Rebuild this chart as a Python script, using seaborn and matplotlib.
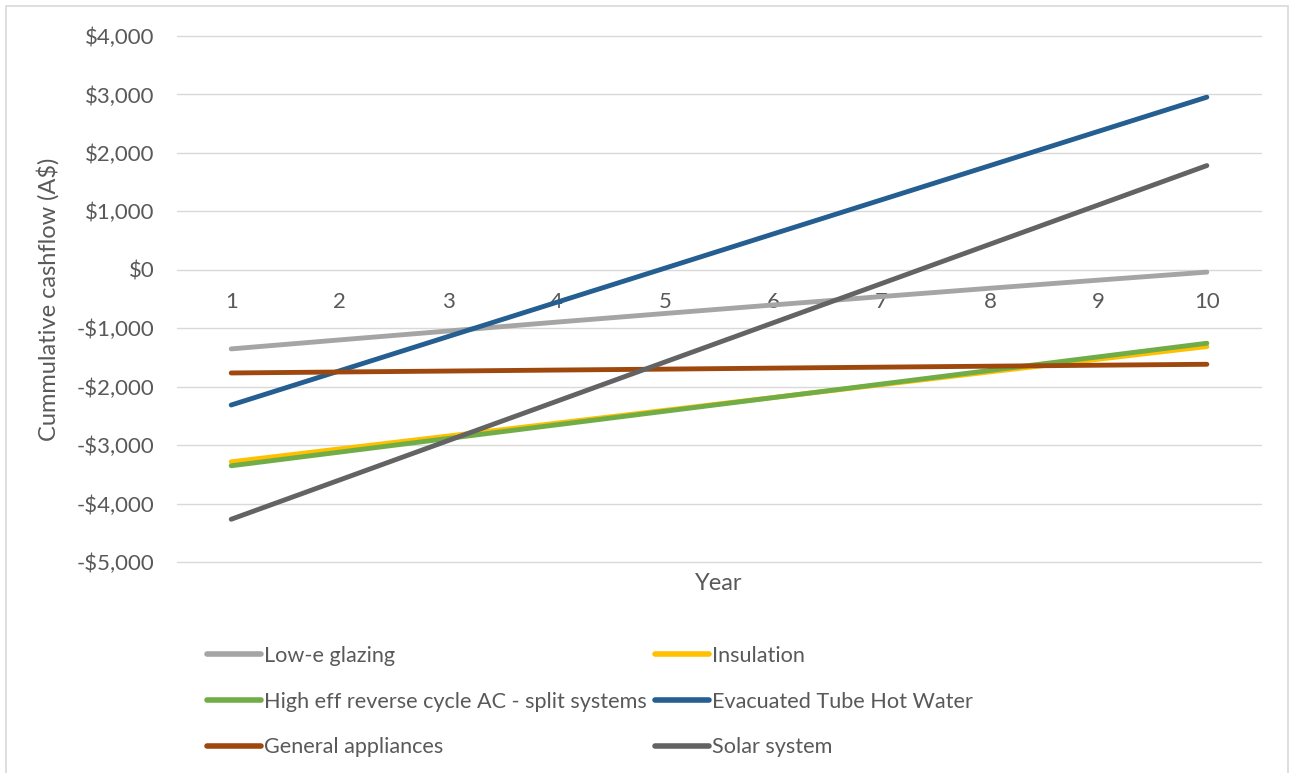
import matplotlib
matplotlib.use("Agg")
import matplotlib.pyplot as plt
import seaborn as sns
import pandas as pd
from matplotlib.lines import Line2D
from matplotlib.patches import Rectangle
from matplotlib.ticker import FuncFormatter, MultipleLocator

# Cumulative cashflow per year for each upgrade option (A$)
years = [1, 2, 3, 4, 5, 6, 7, 8, 9, 10]
low_e_glazing = [-1354, -1200, -1048, -896, -748, -602, -458, -316, -177, -40]
insulation = [-3286, -3065, -2845, -2625, -2405, -2185, -1966, -1747, -1530, -1314]
high_eff_ac = [-3354, -3120, -2887, -2654, -2421, -2188, -1955, -1722, -1490, -1257]
evacuated_tube = [-2314, -1729, -1143, -558, 27, 613, 1198, 1783, 2369, 2954]
general_appliances = [-1766, -1749, -1733, -1716, -1700, -1683, -1666, -1650, -1633, -1617]
solar_system = [-4269, -3597, -2924, -2252, -1579, -907, -235, 438, 1110, 1783]

series_names = [
    "Low-e glazing",
    "Insulation",
    "High eff reverse cycle AC - split systems",
    "Evacuated Tube Hot Water",
    "General appliances",
    "Solar system",
]
series_values = [low_e_glazing, insulation, high_eff_ac, evacuated_tube,
                 general_appliances, solar_system]
series_colors = ["#A5A5A5", "#FFC000", "#70AD47", "#255E91", "#9E480E", "#636363"]

rows = []
for name, vals in zip(series_names, series_values):
    for yr, v in zip(years, vals):
        rows.append({"Year": yr, "Cashflow": v, "Option": name})
df = pd.DataFrame(rows)

sns.set_theme(style="white")
plt.rcParams["font.family"] = ["Lato", "DejaVu Sans"]
text_color = "#595959"
grid_color = "#D9D9D9"

fig = plt.figure(figsize=(12.91, 7.73), dpi=100)
ax = fig.add_axes([0.1371, 0.2730, 0.8397, 0.6804])

ax.set_ylim(-5000, 4000)
ax.set_xlim(0.5, 10.5)
ax.yaxis.set_major_locator(MultipleLocator(1000))
ax.grid(axis="y", color=grid_color, linewidth=1.0)
ax.set_axisbelow(True)

sns.lineplot(data=df, x="Year", y="Cashflow", hue="Option",
             hue_order=series_names, palette=series_colors,
             linewidth=3.5, ax=ax, legend=False, sort=False)
for line in ax.lines:
    line.set_solid_capstyle("round")

def money(v, _pos):
    v = int(round(v))
    return f"-${abs(v):,}" if v < 0 else f"${v:,}"

ax.yaxis.set_major_formatter(FuncFormatter(money))
ax.set_xticks(years)
ax.set_xticklabels([str(y) for y in years])
for s in ["top", "right", "left"]:
    ax.spines[s].set_visible(False)
ax.spines["bottom"].set_position(("data", 0))
ax.spines["bottom"].set_visible(False)
ax.tick_params(axis="x", length=0, pad=16, labelsize=16, labelcolor=text_color)
ax.tick_params(axis="y", length=0, pad=16, labelsize=16, labelcolor=text_color)
for gl in ax.get_ygridlines():
    gl.set_clip_on(False)

ax.set_xlabel("")
ax.set_ylabel("Cummulative cashflow (A$)", fontsize=17, color=text_color)
ax.yaxis.set_label_coords(-0.108, 0.5)
fig.text(0.557, 1 - 583 / 773, "Year", fontsize=17, color=text_color,
         ha="center", va="center")

# Legend in two columns laid out row by row
def handle(c):
    return Line2D([0], [0], color=c, linewidth=4.0, solid_capstyle="round")

legend_kw = dict(frameon=False, fontsize=15.6, labelcolor=text_color,
                 handlelength=2.5, handletextpad=0.15, labelspacing=1.18,
                 borderpad=0, borderaxespad=0, loc="upper left")
left_idx = [0, 2, 4]
right_idx = [1, 3, 5]
fig.legend([handle(series_colors[i]) for i in left_idx],
           [series_names[i] for i in left_idx],
           bbox_to_anchor=(207 / 1291, 1 - 646 / 773), **legend_kw)
fig.legend([handle(series_colors[i]) for i in right_idx],
           [series_names[i] for i in right_idx],
           bbox_to_anchor=(655 / 1291, 1 - 646 / 773), **legend_kw)

# Chart border
fig.patches.append(Rectangle((6 / 1291, -0.01), 1282 / 1291, 1 - 6 / 773 + 0.01,
                             transform=fig.transFigure, fill=False,
                             edgecolor=grid_color, linewidth=1.2))

fig.savefig("out.png", dpi=100, facecolor="white")
